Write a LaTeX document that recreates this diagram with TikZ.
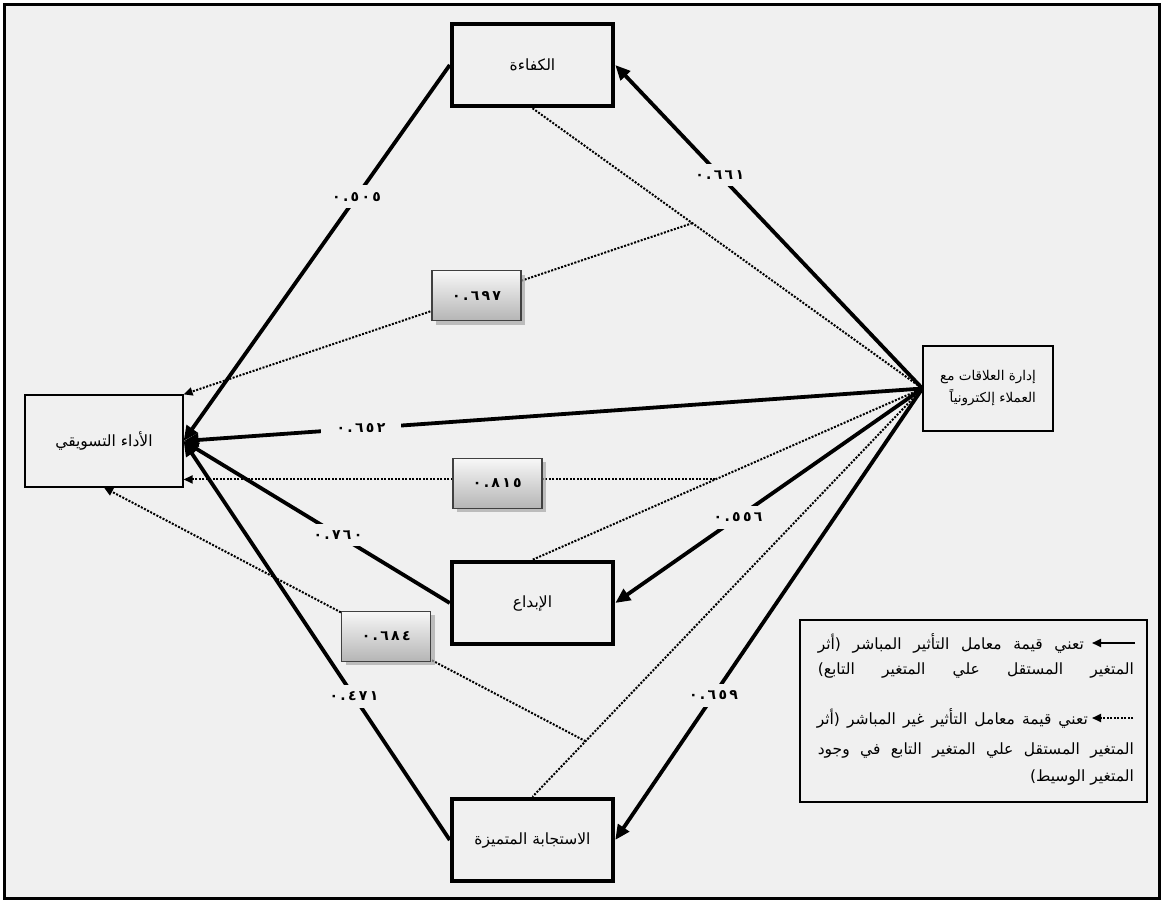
\documentclass[tikz,border=0pt]{standalone}
\usepackage{fontspec}
\usetikzlibrary{arrows.meta,shadows,calc}
\TeXXeTstate=1
\newfontfamily\arabicfont[Script=Arabic]{DejaVu Sans}
\definecolor{bgc}{RGB}{240,240,240}
\begin{document}
\begin{tikzpicture}[x=1pt,y=-1pt,
  mainbox/.style={draw, line width=4.5pt, fill=bgc, minimum width=161pt, minimum height=82pt, inner sep=0pt, font=\arabicfont\fontsize{15.5}{18}\selectfont},
  thinbox/.style={draw, line width=1.2pt, fill=bgc, inner sep=0pt, font=\arabicfont\fontsize{15.5}{18}\selectfont},
  direct/.style={line width=3.8pt, -{Triangle[length=15pt,width=13pt]}},
  indirect/.style={line width=2pt, dash pattern=on 2pt off 1.5pt},
  indarrow/.style={indirect, -{Triangle[length=9pt,width=8pt]}},
  coef/.style={fill=bgc, inner xsep=16pt, inner ysep=7pt, font=\arabicfont\bfseries\fontsize{14}{16}\selectfont},
  coefbox/.style={solid, draw=black!75, line width=1.4pt, top color=gray!6, bottom color=gray!58, minimum width=89pt, minimum height=50pt, inner sep=0pt, drop shadow={shadow xshift=4pt, shadow yshift=-4pt, fill=gray!70, opacity=0.7}, font=\arabicfont\bfseries\fontsize{14}{16}\selectfont},
  legtext/.style={inner sep=0pt, anchor=east, font=\arabicfont\fontsize{15.5}{17}\selectfont},
]
\useasboundingbox (0,0) rectangle (1163,902);
\draw[line width=3pt, fill=bgc] (4,4) rectangle (1159,898);

% main nodes
\node[mainbox] (kafaa) at (532.5,65) {\beginR الكفاءة\endR};
\node[mainbox] (ibdaa) at (532.5,603) {\beginR الإبداع\endR};
\node[mainbox] (istij) at (532.5,840) {\beginR الاستجابة المتميزة\endR};
\node[thinbox, minimum width=158pt, minimum height=92pt] (adaa) at (104,441) {\beginR الأداء التسويقي\endR};
\node[thinbox, minimum width=130pt, minimum height=85pt, align=right, font=\arabicfont\fontsize{13.5}{22}\selectfont] (idara) at (988,388.5) {\beginR إدارة العلاقات مع\endR\\\beginR العملاء إلكترونياً\endR};

% branch points
\coordinate (B1) at ($(kafaa.south)!0.41!(idara.west)$);
\coordinate (B2) at ($(idara.west)!0.531!(ibdaa.north)$);
\coordinate (B3) at ($(idara.west)!0.864!(istij.north)$);
\coordinate (T2) at (B2 -| adaa.east);

% indirect paths
\draw[indirect] (kafaa.south) -- (idara.west);
\draw[indirect] (idara.west) -- (ibdaa.north);
\draw[indirect] (idara.west) -- (istij.north);
\draw[indarrow] (B1) -- node[coefbox, pos=0.424] (c697) {٠\,.\,٦\,٩\,٧} (adaa.north east);
\draw[indarrow] (B2) -- node[coefbox, pos=0.41, yshift=-4pt] (c815) {٠\,.\,٨\,١\,٥} (T2);
\draw[indarrow] (B3) -- node[coefbox, pos=0.414] (c684) {٠\,.\,٦\,٨\,٤} (adaa.south);

% direct paths
\draw[direct] (idara.west) -- node[coef, pos=0.66] (c661) {٠\,.\,٦\,٦\,١} (kafaa.east);
\draw[direct] (kafaa.west) -- node[coef, pos=0.35] (c505) {٠\,.\,٥\,٠\,٥} (adaa.east);
\draw[direct] (idara.west) -- node[coef, pos=0.76] (c652) {٠\,.\,٦\,٥\,٢} (adaa.east);
\draw[direct] (idara.west) -- node[coef, pos=0.6] (c556) {٠\,.\,٥\,٥\,٦} (ibdaa.east);
\draw[direct] (ibdaa.west) -- node[coef, pos=0.42] (c760) {٠\,.\,٧\,٦\,٠} (adaa.east);
\draw[direct] (istij.west) -- node[coef, pos=0.36] (c471) {٠\,.\,٤\,٧\,١} (adaa.east);
\draw[direct] (idara.west) -- node[coef, pos=0.68] (c659) {٠\,.\,٦\,٥\,٩} (istij.east);

% legend
\draw[line width=1.2pt, fill=bgc] (800,620) rectangle (1147,802);
\coordinate (ls1) at (1135,643); \coordinate (le1) at (1092,643);
\draw[line width=2pt, -{Triangle[length=9pt,width=8pt]}] (ls1) -- (le1);
\coordinate (ls2) at (1133,718); \coordinate (le2) at (1092,718);
\draw[indarrow] (ls2) -- (le2);
\node[legtext] (lt1) at (1084,643) {\hbox to 266pt{\beginR تعني قيمة معامل التأثير المباشر (أثر\endR}};
\node[legtext] (lt2) at (1134,670) {\hbox to 316pt{\beginR المتغير المستقل علي المتغير التابع)\endR}};
\node[legtext] (lt3) at (1088,718) {\hbox to 271pt{\beginR تعني قيمة معامل التأثير غير المباشر (أثر\endR}};
\node[legtext] (lt4) at (1134,750) {\hbox to 316pt{\beginR المتغير المستقل علي المتغير التابع في وجود\endR}};
\node[legtext] (lt5) at (1134,777) {\beginR المتغير الوسيط)\endR};
\end{tikzpicture}
\end{document}
